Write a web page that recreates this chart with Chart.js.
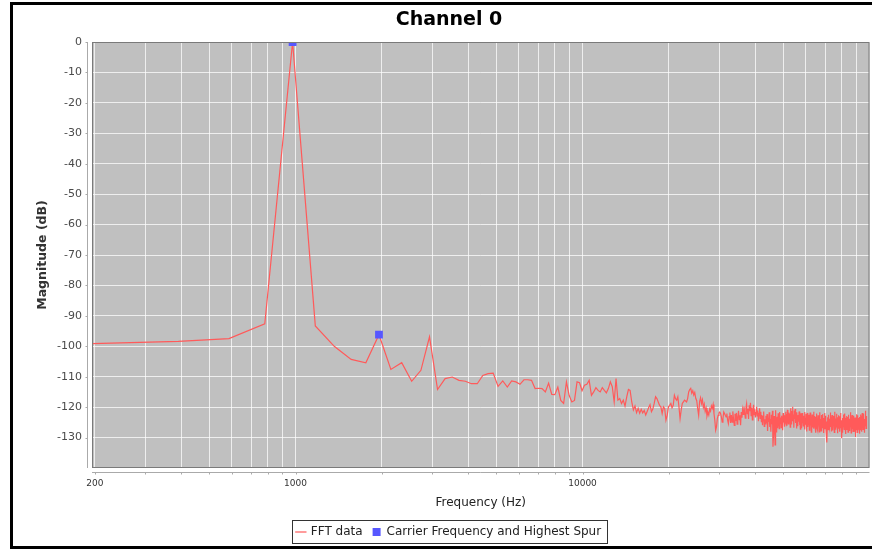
<!DOCTYPE html>
<html>
<head>
<meta charset="utf-8">
<title>Channel 0</title>
<script src="https://cdn.jsdelivr.net/npm/chart.js@4.4.1/dist/chart.umd.min.js"></script>
<style>
  html, body { margin: 0; padding: 0; background: #fff; overflow: hidden; }
  #frame { position: absolute; left: 10px; top: 2px; width: 900px; height: 541px; border: 3px solid #000; }
  #wrap { position: absolute; left: 0; top: 0; width: 875px; height: 550px; }
</style>
</head>
<body>
<div id="frame"></div>
<div id="wrap"><canvas id="fftChart" width="875" height="550"></canvas></div>
<script>
const FFT_RED = '#ff5a5a';
const MARK_BLUE = '#5757ff';
const PLOT_BG = '#c0c0c0';
const FONT = '"DejaVu Sans", Verdana, sans-serif';

// FFT bin spacing, bin 1 = 195.3 Hz
const BIN_HZ = 195.3125;

// bins 1-51
const lowBandDb = [
    -99.1, -98.4, -97.5, -92.6, 0.0, -93.3, -100.1, -104.3, -105.4, -96.2,
    -107.6, -105.4, -111.5, -107.9, -96.9, -114.2, -110.6, -110.1, -111.2, -111.5,
    -112.3, -112.3, -109.6, -109.0, -108.8, -113.2, -111.4, -113.4, -111.4, -111.7,
    -112.5, -111.0, -111.0, -111.2, -113.9, -113.8, -113.9, -115.0, -112.1, -115.8,
    -115.9, -113.4, -117.8, -118.8, -111.7, -116.2, -118.3, -117.8, -111.7, -112.0,
    -114.6,
];

// bins 52-165
const midBandDb = [
    -112.8, -112.5, -111.2, -116.1, -115.0, -113.6, -114.5, -115.0, -113.6,
    -114.5, -115.3, -113.9, -111.7, -113.3, -118.3, -110.6, -117.7, -117.2, -118.8,
    -117.7, -119.7, -116.6, -114.2, -114.5, -118.3, -120.9, -119.6, -121.8, -120.4,
    -122.0, -120.7, -121.9, -121.1, -122.6, -121.4, -120.2, -119.2, -121.5, -120.6,
    -118.8, -116.6, -117.2, -118.3, -119.4, -119.9, -122.1, -119.9, -120.5, -124.3,
    -122.7, -119.9, -119.4, -118.8, -120.2, -119.4, -116.1, -117.2, -117.7, -116.6,
    -119.9, -123.8, -121.0, -118.8, -118.3, -117.7, -118.0, -118.3, -117.2, -115.0,
    -114.2, -113.8, -115.4, -114.6, -116.0, -115.2, -117.1, -117.9, -120.5, -122.7,
    -118.2, -116.9, -118.8, -117.6, -120.1, -119.0, -121.4, -120.3, -122.9, -121.7,
    -122.6, -120.6, -121.3, -119.6, -120.4, -119.1, -122.1, -124.3, -127.6, -126.5,
    -123.8, -122.7, -121.9, -121.6, -122.1, -123.2, -124.9, -123.8, -121.6, -122.1,
    -122.7, -123.2, -122.1, -124.3, -125.4,
];

// bins 166-511 (noise floor)
const highBandDb = [
    -123.1, -121.8, -125.2, -122.6, -124.9, -121.4, -123.8, -126.0, -122.2, -124.5,
    -121.9, -125.6, -123.3, -121.2, -124.1, -122.7, -125.9, -121.6, -123.5, -120.8,
    -122.4, -119.8, -121.7, -123.6, -120.3, -118.9, -122.1, -120.6, -123.9, -119.4,
    -121.3, -118.6, -122.8, -120.1, -124.2, -121.0, -119.2, -122.5, -120.7, -123.4,
    -121.8, -119.9, -122.9, -121.1, -124.6, -122.0, -120.4, -123.7, -121.5, -124.8,
    -122.6, -125.9, -123.1, -121.4, -126.3, -124.0, -125.5, -122.8, -125.2, -122.3,
    -127.8, -124.1, -124.4, -121.7, -126.5, -123.9, -128.1, -122.5, -125.6, -121.2,
    -133.0, -129.4, -122.9, -126.2, -132.4, -121.0, -125.8, -128.3, -123.2, -126.9,
    -122.0, -124.6, -127.1, -121.6, -125.3, -123.4, -126.7, -122.8, -124.1, -127.6,
    -121.9, -125.0, -122.7, -126.4, -123.8,
    -121.5, -124.9, -122.3, -126.1, -120.9, -123.7, -125.5, -121.8, -124.3, -122.1,
    -126.6, -120.4, -123.0, -125.7, -121.3, -119.9, -124.6, -122.4, -126.8, -121.1,
    -123.9, -120.6, -125.2, -122.9, -127.0, -121.7, -124.2, -126.3, -122.6, -124.8,
    -121.4, -125.9, -123.3, -127.2, -122.0, -124.5, -126.9, -121.9, -125.1, -123.5,
    -126.2, -122.8, -125.4, -121.6, -127.3, -123.7, -125.8, -122.2, -128.0, -124.1,
    -121.9, -126.5, -123.4, -125.9, -122.5, -127.6, -124.3, -121.8, -126.0, -123.1,
    -128.2, -124.9, -122.4, -126.7, -123.8, -125.2, -121.5, -127.1, -124.6, -122.9,
    -126.4, -123.2, -128.4, -125.0, -122.1, -126.8, -124.2, -127.5, -122.7, -125.6,
    -123.5, -128.1, -124.8, -121.7, -126.3, -123.9, -127.8, -122.6, -125.3, -124.0,
    -126.9, -122.3, -125.7, -128.5, -123.6, -126.1, -121.9, -127.2, -124.5, -122.8,
    -126.6, -129.0, -124.7, -131.6, -126.0, -123.3, -127.4, -125.1, -122.5, -126.2,
    -123.8, -127.0, -124.4, -121.8, -126.5, -123.1, -128.0, -125.3, -122.6, -126.9,
    -124.0, -127.7, -122.9, -125.6, -123.4, -128.3, -124.8, -121.5, -126.3, -123.7,
    -127.4, -125.0, -122.2, -126.7, -124.1, -128.6, -123.3, -125.9, -122.7, -127.1,
    -124.6, -126.2, -123.0, -128.1, -125.4, -121.9, -126.8, -124.3, -127.6, -130.2,
    -125.7, -123.6, -128.4, -124.9, -122.4, -126.4, -123.9, -127.3, -125.2, -122.1,
    -126.6, -124.2, -128.8, -123.5, -125.8, -122.9, -127.5, -124.7, -126.1, -123.2,
    -128.2, -125.5, -122.5, -126.9, -124.0, -127.8, -123.8, -125.3, -121.7, -126.2,
    -124.5, -128.5, -123.1, -126.0, -122.6, -127.2, -125.1, -123.7, -128.0, -124.3,
    -126.5, -122.8, -127.9, -124.8, -125.9, -123.4, -129.8, -126.3, -124.1, -127.4,
    -122.3, -125.6, -123.9, -128.3, -125.0, -122.7, -126.7, -124.4, -127.1, -123.6,
    -126.0, -124.9, -128.7, -123.2, -125.7, -122.4, -127.6, -124.6, -126.4, -123.0,
    -128.1, -125.2, -121.9, -126.8, -124.2, -127.3, -123.5, -125.8, -122.1, -126.3,
    -124.7, -128.4, -123.9, -126.1, -121.2, -125.5, -123.3, -127.0, -124.0, -126.6,
    -122.9,
];

// carrier and highest spur
const markerHz = [976.5625, 1953.125];
const markerDb = [0, -96.2];

const xTickHz = [
    200, 300, 400, 500, 600, 700, 800, 900,
    1000, 2000, 3000, 4000, 5000, 6000, 7000, 8000, 9000,
    10000, 20000, 30000, 40000, 50000, 60000, 70000, 80000, 90000,
];
const xLabelHz = [200, 1000, 10000];
const yTickDb = [-130, -120, -110, -100, -90, -80, -70, -60, -50, -40, -30, -20, -10, 0];

const magnitudeDb = [...lowBandDb, ...midBandDb, ...highBandDb];
const fftPoints = magnitudeDb.map((db, i) => ({ x: (i + 1) * BIN_HZ, y: db }));
const markerPoints = markerHz.map((hz, i) => ({ x: hz, y: markerDb[i] }));

const plotFrame = {
    id: 'plotFrame',
    beforeDraw(chart) {
        const { ctx, chartArea: a } = chart;
        ctx.save();
        ctx.fillStyle = PLOT_BG;
        ctx.fillRect(a.left, a.top, a.right - a.left, a.bottom - a.top);
        ctx.restore();
    },
    afterDraw(chart) {
        const { ctx, chartArea: a, scales } = chart;
        ctx.save();
        ctx.lineWidth = 1;
        ctx.strokeStyle = '#7a7a7a';
        ctx.strokeRect(a.left + 0.5, a.top + 0.5, a.right - a.left - 1, a.bottom - a.top - 1);

        // offset axis lines with small tick marks
        ctx.strokeStyle = '#aaaaaa';
        const yb = Math.round(a.bottom) + 4.5;
        const xl = Math.round(a.left) - 4.5;
        ctx.beginPath();
        ctx.moveTo(a.left, yb);
        ctx.lineTo(a.right, yb);
        ctx.moveTo(xl, a.top);
        ctx.lineTo(xl, a.bottom);
        xTickHz.forEach((hz) => {
            const px = Math.round(scales.x.getPixelForValue(hz)) + 0.5;
            ctx.moveTo(px, yb);
            ctx.lineTo(px, yb + 2);
        });
        yTickDb.forEach((db) => {
            const py = Math.round(scales.y.getPixelForValue(db)) + 0.5;
            ctx.moveTo(xl - 2, py);
            ctx.lineTo(xl, py);
        });
        ctx.stroke();

        // box round the legend
        const boxes = chart.legend.legendHitBoxes;
        if (boxes && boxes.length) {
            const first = boxes[0];
            const last = boxes[boxes.length - 1];
            const left = Math.round(first.left) - 4.5;
            const right = Math.round(last.left + last.width) + 6.5;
            const top = Math.round(first.top) - 5.5;
            const bottom = Math.round(first.top + first.height) + 5.5;
            ctx.strokeStyle = '#333';
            ctx.strokeRect(left, top, right - left, bottom - top);
        }
        ctx.restore();
    },
};

new Chart(document.getElementById('fftChart'), {
    type: 'line',
    data: {
        datasets: [
            {
                label: 'FFT data',
                data: fftPoints,
                borderColor: FFT_RED,
                backgroundColor: FFT_RED,
                borderWidth: 1.2,
                pointRadius: 0,
                pointStyle: 'line',
                tension: 0,
                order: 2,
            },
            {
                label: 'Carrier Frequency and Highest Spur',
                data: markerPoints,
                showLine: false,
                borderColor: MARK_BLUE,
                backgroundColor: MARK_BLUE,
                borderWidth: 0,
                pointStyle: 'rect',
                pointRadius: 5.5,
                pointBorderWidth: 0,
                clip: 0,
                order: 1,
            },
        ],
    },
    options: {
        responsive: false,
        animation: false,
        devicePixelRatio: 1,
        layout: { padding: { left: 28, right: 5, top: 0, bottom: 2 } },
        plugins: {
            title: {
                display: true,
                text: 'Channel 0',
                color: '#000',
                font: { family: FONT, size: 19, weight: 'bold' },
                padding: { top: 9, bottom: 10.2 },
            },
            legend: {
                position: 'bottom',
                labels: {
                    usePointStyle: true,
                    boxWidth: 8,
                    boxHeight: 8,
                    padding: 10,
                    color: '#222',
                    font: { family: FONT, size: 12 },
                    sort: (a, b) => a.datasetIndex - b.datasetIndex,
                },
            },
            tooltip: { enabled: false },
        },
        scales: {
            x: {
                type: 'logarithmic',
                min: BIN_HZ,
                max: 100000,
                afterBuildTicks(scale) {
                    scale.ticks = xTickHz.map((v) => ({ value: v }));
                },
                afterFit(scale) {
                    scale.height = 48;
                },
                border: { display: false },
                grid: { color: 'rgba(255,255,255,0.72)', drawTicks: false },
                ticks: {
                    autoSkip: false,
                    maxRotation: 0,
                    padding: 10,
                    color: '#333',
                    font: { family: FONT, size: 9 },
                    callback: (v) => (xLabelHz.includes(v) ? String(v) : ''),
                },
                title: {
                    display: true,
                    text: 'Frequency (Hz)',
                    color: '#222',
                    font: { family: FONT, size: 12 },
                    padding: { top: 0, bottom: 6.3 },
                },
            },
            y: {
                min: -140,
                max: 0,
                afterBuildTicks(scale) {
                    scale.ticks = yTickDb.map((v) => ({ value: v }));
                },
                afterFit(scale) {
                    scale.width = 64;
                },
                border: { display: false },
                grid: { color: 'rgba(255,255,255,0.72)', drawTicks: false },
                ticks: {
                    padding: 10,
                    color: '#4a4a4a',
                    font: { family: FONT, size: 11 },
                },
                title: {
                    display: true,
                    text: 'Magnitude (dB)',
                    color: '#333',
                    font: { family: FONT, size: 12.5, weight: 'bold' },
                    padding: { top: 7.5, bottom: 0 },
                },
            },
        },
    },
    plugins: [plotFrame],
});
</script>
</body>
</html>
